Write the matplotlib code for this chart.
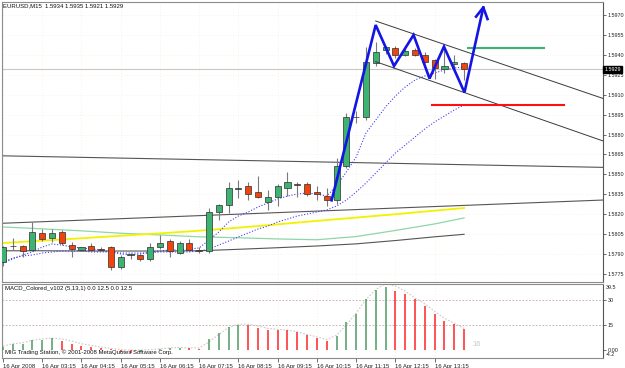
import matplotlib
matplotlib.use("Agg")
import matplotlib.pyplot as plt
import matplotlib.transforms as mtransforms
import numpy as np

plt.rcParams['font.family'] = ['Liberation Sans', 'DejaVu Sans']

# --- bougies EURUSD M15 (16 Apr 2008, 02:15 -> 14:00) ---
opens = [1.5784, 1.5796, 1.5796, 1.5793, 1.5806, 1.5802, 1.5807, 1.5797, 1.5793, 1.5796,
         1.5794, 1.5795, 1.5780, 1.5789, 1.5789, 1.5786, 1.5795, 1.5800, 1.5791, 1.5798,
         1.5793, 1.5792, 1.5822, 1.5827, 1.5839, 1.5841, 1.5837, 1.5829, 1.5833, 1.5840,
         1.5843, 1.5843, 1.5837, 1.5834, 1.5831, 1.5856, 1.5893, 1.5893, 1.5934, 1.5944,
         1.5945, 1.5940, 1.5944, 1.5940, 1.5936, 1.5929, 1.5933, 1.5934]
highs = [1.5796, 1.5802, 1.5797, 1.5814, 1.5809, 1.5809, 1.5808, 1.5799, 1.5795, 1.5798,
         1.5795, 1.5796, 1.5789, 1.5791, 1.5790, 1.5798, 1.5804, 1.5801, 1.5800, 1.5801,
         1.5795, 1.5825, 1.5828, 1.5844, 1.5846, 1.5844, 1.5849, 1.5838, 1.5843, 1.5852,
         1.5844, 1.5844, 1.5841, 1.5840, 1.5862, 1.5896, 1.5898, 1.5946, 1.5950, 1.5947,
         1.5947, 1.5945, 1.5945, 1.5942, 1.5937, 1.5946, 1.5940, 1.5935]
lows = [1.5781, 1.5793, 1.5788, 1.5792, 1.5800, 1.5799, 1.5797, 1.5788, 1.5792, 1.5792,
        1.5792, 1.5778, 1.5779, 1.5786, 1.5785, 1.5785, 1.5794, 1.5788, 1.5790, 1.5792,
        1.5791, 1.5791, 1.5816, 1.5821, 1.5832, 1.5831, 1.5832, 1.5823, 1.5826, 1.5834,
        1.5833, 1.5834, 1.5831, 1.5826, 1.5828, 1.5855, 1.5889, 1.5891, 1.5932, 1.5941,
        1.5938, 1.5939, 1.5939, 1.5934, 1.5922, 1.5926, 1.5930, 1.5921]
closes = [1.5795, 1.5796, 1.5792, 1.5807, 1.5801, 1.5806, 1.5798, 1.5794, 1.5795, 1.5793,
          1.5793, 1.5780, 1.5788, 1.5790, 1.5786, 1.5795, 1.5798, 1.5792, 1.5798, 1.5793,
          1.5792, 1.5822, 1.5827, 1.5840, 1.5840, 1.5835, 1.5833, 1.5833, 1.5841, 1.5844,
          1.5842, 1.5835, 1.5835, 1.5831, 1.5856, 1.5893, 1.5893, 1.5935, 1.5942, 1.5946,
          1.5940, 1.5943, 1.5940, 1.5935, 1.5930, 1.5932, 1.5935, 1.5929]

# moyennes mobiles pointillees (bleues)
ma_fast = [1.57833, 1.57863, 1.57893, 1.57916, 1.57953, 1.57976, 1.57968, 1.57953, 1.57946, 1.57938,
           1.57931, 1.57916, 1.57901, 1.57893, 1.57901, 1.57916, 1.57923, 1.57931, 1.57931, 1.57938,
           1.57946, 1.58006, 1.58066, 1.58142, 1.58187, 1.58217, 1.58255, 1.58285, 1.58315, 1.58337,
           1.58352, 1.58360, 1.58352, 1.58337, 1.58413, 1.58518, 1.58631, 1.58812, 1.58910, 1.59008,
           1.59090, 1.59158, 1.59211, 1.59241, 1.59264, 1.59286, 1.59301, 1.59309]
ma_slow = [1.57840, 1.57870, 1.57886, 1.57893, 1.57908, 1.57916, 1.57923, 1.57923, 1.57923, 1.57916,
           1.57916, 1.57916, 1.57908, 1.57908, 1.57908, 1.57908, 1.57916, 1.57916, 1.57916, 1.57916,
           1.57923, 1.57938, 1.57968, 1.57998, 1.58029, 1.58059, 1.58089, 1.58111, 1.58142, 1.58164,
           1.58187, 1.58202, 1.58217, 1.58232, 1.58262, 1.58307, 1.58367, 1.58435, 1.58511, 1.58586,
           1.58661, 1.58721, 1.58782, 1.58842, 1.58895, 1.58940, 1.58985, 1.59023]

# moyennes longues, relevees toutes les 4 bougies
ma_long_idx = [0, 4, 8, 12, 16, 20, 24, 28, 32, 36, 40, 44, 47]
ma_yellow = [1.57983, 1.58001, 1.58019, 1.58038, 1.58056, 1.58076, 1.58099, 1.58124, 1.58150,
             1.58175, 1.58200, 1.58227, 1.58247]
ma_green = [1.58104, 1.58090, 1.58075, 1.58057, 1.58044, 1.58030, 1.58023, 1.58014, 1.58008,
            1.58032, 1.58078, 1.58127, 1.58172]
ma_dark = [1.57925, 1.57925, 1.57923, 1.57923, 1.57923, 1.57925, 1.57936, 1.57948, 1.57961,
           1.57977, 1.58002, 1.58030, 1.58049]

# objets dessines (index de bougie, prix)
trend_top_x, trend_top_y = [-0.1, 61.16], [1.58640, 1.58553]
trend_mid_x, trend_mid_y = [-0.1, 61.16], [1.58132, 1.58307]
chan_up_x, chan_up_y = [37.99, 61.16], [1.59655, 1.59072]
chan_lo_x, chan_lo_y = [37.99, 61.16], [1.59349, 1.58752]
zig_x = [33.5, 37.99, 39.86, 41.85, 43.48, 44.95, 47.04, 48.96]
zig_y = [1.58305, 1.59625, 1.59316, 1.59550, 1.59222, 1.59462, 1.59117, 1.59757]
arrow_wing_x = [48.22, 48.96, 49.39]
arrow_wing_y = [1.59688, 1.59757, 1.59670]
target_x, target_y = [47.43, 55.15], 1.59454
stop_x, stop_y = [43.76, 57.19], 1.59023

# MACD
macd_hist = [2.2, 3.6, 3.6, 6.2, 6.2, 7.2, 5.6, 3.8, 2.8, 2.1,
             1.6, 0.6, -0.8, -1.2, -1.0, 0.2, 1.0, 1.4, 1.6, 1.2,
             0.8, 6.6, 10.1, 13.6, 15.0, 15.0, 13.4, 12.1, 12.1, 12.1,
             10.7, 9.1, 7.5, 5.6, 8.5, 16.9, 21.3, 30.1, 35.6, 37.4,
             35.2, 33.2, 30.1, 26.2, 21.3, 17.4, 15.6, 12.6]
macd_up = [True, True, True, True, True, True, False, False, False, False,
           False, False, False, False, True, True, True, True, True, False,
           False, True, True, True, True, False, False, False, False, False,
           False, False, False, False, True, True, True, True, True, True,
           False, False, False, False, False, False, False, False]
macd_signal = [2.5, 4.0, 4.5, 6.0, 6.8, 7.3, 6.8, 5.5, 4.0, 3.0,
               2.0, 1.2, 0.5, 0.2, 0.2, 0.5, 1.0, 1.5, 1.8, 1.5,
               1.5, 5.0, 9.5, 13.5, 15.5, 15.5, 14.5, 13.0, 12.5, 12.0,
               11.0, 9.5, 8.0, 6.5, 9.0, 15.0, 22.0, 30.0, 36.0, 39.5,
               38.0, 35.0, 31.0, 27.5, 23.0, 19.0, 16.0, 13.0]

time_idx = [0, 4, 8, 12, 16, 20, 24, 28, 32, 36, 40, 44]
time_labels = ["16 Apr 2008", "16 Apr 03:15", "16 Apr 04:15", "16 Apr 05:15",
               "16 Apr 06:15", "16 Apr 07:15", "16 Apr 08:15", "16 Apr 09:15",
               "16 Apr 10:15", "16 Apr 11:15", "16 Apr 12:15", "16 Apr 13:15"]
price_ticks = [1.5775, 1.5790, 1.5805, 1.5820, 1.5835, 1.5850, 1.5865, 1.5880,
               1.5895, 1.5910, 1.5925, 1.5940, 1.5955, 1.5970]

W, H = 625, 368
FS = 4.3
FS_R = 3.9
GREEN = '#3cb371'
RED = '#f0440e'
FRAME = '#8c8c8c'

fig = plt.figure(figsize=(W / 100, H / 100), dpi=100)
fig.patch.set_facecolor('white')

ax = fig.add_axes([2 / W, 1 - 282 / H, 601 / W, 280 / H])
ax2 = fig.add_axes([2 / W, 1 - 357.6 / H, 601 / W, 74.1 / H])

XMIN, XMAX = -0.1, 61.16
n = len(opens)
idx = np.arange(n)

# --- panneau prix ---
ax.set_xlim(XMIN, XMAX)
ax.set_ylim(1.576898, 1.597982)
for p in price_ticks:
    ax.axhline(p, color='#f4e8cc', lw=0.5, ls=(0, (1, 3)), zorder=0)
for t in time_idx:
    ax.axvline(t, color='#f4e8cc', lw=0.5, ls=(0, (1, 3)), zorder=0)

# ligne du bid
ax.axhline(closes[-1], color='#cdc6c6', lw=0.8, zorder=1)

ax.plot(trend_top_x, trend_top_y, color='#555555', lw=0.8, zorder=2)
ax.plot(trend_mid_x, trend_mid_y, color='#555555', lw=0.8, zorder=2)
ax.plot(ma_long_idx, ma_dark, color='#555555', lw=0.8, zorder=2)
ax.plot(ma_long_idx, ma_green, color='#8fd6a8', lw=0.9, zorder=2)
ax.plot(ma_long_idx, ma_yellow, color='#f2f200', lw=1.3, zorder=2)
ax.plot(idx, ma_slow, color='#4040f0', lw=0.8, ls=(0, (1, 1.6)), zorder=2)
ax.plot(idx, ma_fast, color='#4040f0', lw=0.8, ls=(0, (1, 1.6)), zorder=2)

# bougies
o = np.array(opens)
c = np.array(closes)
body_lo = np.minimum(o, c)
body_h = np.maximum(np.abs(c - o), 0.00002)
cols = [GREEN if cc >= oo else RED for oo, cc in zip(o, c)]
ax.vlines(idx, lows, highs, color='#7a7a7a', lw=0.8, zorder=3)
ax.bar(idx, body_h, bottom=body_lo, width=0.62, color=cols,
       edgecolor='#2e2e2e', linewidth=0.5, zorder=4)

# canal et dessins
ax.plot(chan_up_x, chan_up_y, color='#3a3a3a', lw=0.7, zorder=5)
ax.plot(chan_lo_x, chan_lo_y, color='#3a3a3a', lw=0.7, zorder=5)
ax.plot(target_x, [target_y, target_y], color='#3cb371', lw=1.5, zorder=5)
ax.plot(stop_x, [stop_y, stop_y], color='#ff1010', lw=1.5, zorder=5)
ax.plot(zig_x, zig_y, color='#1414e6', lw=1.9, solid_joinstyle='miter', zorder=6)
ax.plot(arrow_wing_x, arrow_wing_y, color='#1414e6', lw=1.9, zorder=6)

ax.yaxis.tick_right()
ax.set_yticks(price_ticks)
ax.set_yticklabels([f"{p:.4f}" for p in price_ticks])
ax.tick_params(axis='y', length=2.5, width=0.6, pad=1.0, labelsize=FS_R,
               color='#555555', labelcolor='#222222')
ax.set_xticks([])
for side in ['left', 'top', 'bottom']:
    ax.spines[side].set_color(FRAME)
    ax.spines[side].set_linewidth(0.8)
ax.spines['right'].set_color('#555555')
ax.spines['right'].set_linewidth(0.8)

# etiquette du dernier prix
trans = mtransforms.blended_transform_factory(ax.transAxes, ax.transData)
ax.text(1.002, closes[-1], f"{closes[-1]:.4f}", transform=trans, fontsize=FS_R,
        color='white', va='center', ha='left', zorder=10, clip_on=False,
        bbox=dict(facecolor='black', edgecolor='black', pad=0.6))

fig.text(3 / W, 1 - 6 / H, "EURUSD,M15  1.5934 1.5935 1.5921 1.5929",
         fontsize=FS, color='#111111', va='center', ha='left')

# --- panneau MACD ---
ax2.set_xlim(XMIN, XMAX)
ax2.set_ylim(-4.2, 39.5)
for lv in [30, 15]:
    ax2.axhline(lv, color='#c4a8a8', lw=0.6, ls=(0, (2, 2)), zorder=1)
for t in time_idx:
    ax2.axvline(t, color='#f4e8cc', lw=0.5, ls=(0, (1, 3)), zorder=0)
hist_cols = ['#4f9a64' if u else '#ff2424' for u in macd_up]
ax2.vlines(idx, 0, macd_hist, colors=hist_cols, lw=1.1, zorder=3)
ax2.plot(idx, macd_signal, color='#d0c8c8', lw=0.8, ls=(0, (1.5, 1.5)), zorder=2)
ax2.text(47.9, 3.8, "16", fontsize=5.5, color='#c8c8c8', va='center', ha='left')

ax2.text(0.005, 0.93, "MACD_Colored_v102 (5,13,1) 0.0 12.5 0.0 12.5",
         transform=ax2.transAxes, fontsize=FS, color='#111111', va='center')
ax2.text(0.005, 0.07, "MIG Trading Station, \u00a9 2001-2008 MetaQuotes Software Corp.",
         transform=ax2.transAxes, fontsize=FS, color='#111111', va='center')

ax2.yaxis.tick_right()
ax2.set_yticks([30, 15, 0])
ax2.set_yticklabels(["30", "15", "0.00"])
ax2.tick_params(axis='y', length=2.5, width=0.6, pad=1.0, labelsize=FS_R,
                color='#555555', labelcolor='#222222')
ax2.text(1.005, 0.94, "39.5", transform=ax2.transAxes, fontsize=FS_R,
         color='#222222', va='center', ha='left')
ax2.text(1.005, 0.04, "-4.2", transform=ax2.transAxes, fontsize=FS_R,
         color='#222222', va='center', ha='left')

ax2.set_xticks(time_idx)
ax2.set_xticklabels(time_labels, ha='left')
ax2.tick_params(axis='x', length=3, width=0.6, pad=1.5, labelsize=FS,
                color='#555555', labelcolor='#222222')
for side in ['left', 'top', 'bottom']:
    ax2.spines[side].set_color(FRAME)
    ax2.spines[side].set_linewidth(0.8)
ax2.spines['right'].set_color('#555555')
ax2.spines['right'].set_linewidth(0.8)

fig.savefig("out.png", dpi=100)
